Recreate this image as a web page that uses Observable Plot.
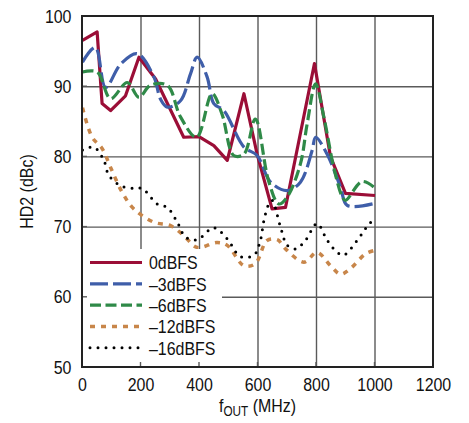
<!DOCTYPE html>
<html>
<head>
<meta charset="utf-8">
<script src="https://cdn.jsdelivr.net/npm/d3@7"></script>
<script src="https://cdn.jsdelivr.net/npm/@observablehq/plot@0.6"></script>
<style>
  html, body { margin: 0; padding: 0; background: #fff; }
  #chart { width: 469px; height: 423px; }
</style>
</head>
<body>
<div id="chart"></div>
<script>
// ---- Data ----
const seriesNames = ["0dBFS", "\u20133dBFS", "\u20136dBFS", "\u201312dBFS", "\u201316dBFS"];
const xTicks = [0, 200, 400, 600, 800, 1000, 1200];
const yTicks = [50, 60, 70, 80, 90, 100];

const s0dBFS = [[0,96.6],[50,97.8],[67,87.6],[96,86.6],[147,88.7],[193,94.2],[250,91.1],[346,82.8],[398,82.9],[449,81.6],[495,79.5],[552,89.0],[597,80.4],[648,72.6],[694,72.8],[793,93.3],[848,80.0],[899,74.8],[1000,74.5]];
const s3dBFS = [[0,93.5],[44,95.6],[79,89.9],[130,93.2],[187,94.7],[244,91.4],[267,88.2],[290,87.1],[335,88.0],[369,91.8],[392,94.2],[426,91.4],[449,87.6],[483,86.6],[552,81.4],[597,80.2],[643,76.4],[700,75.2],[745,76.4],[785,80.9],[797,82.8],[836,80.4],[882,75.7],[905,73.1],[1000,73.4]];
const s6dBFS = [[0,92.1],[50,92.1],[96,88.3],[153,90.6],[193,88.5],[232,90.2],[290,90.2],[335,85.7],[390,82.8],[443,89.0],[477,86.1],[517,80.2],[552,80.4],[591,85.4],[636,76.6],[671,73.3],[700,74.3],[745,79.0],[768,84.7],[797,90.4],[825,85.7],[859,78.5],[888,74.3],[899,73.8],[956,76.5],[996,75.7]];
const s12dBFS = [[0,87.0],[33,82.8],[67,81.2],[96,78.5],[135,75.0],[175,72.6],[244,70.7],[301,70.2],[346,68.8],[392,67.1],[460,67.8],[495,67.4],[552,64.5],[591,64.8],[631,68.1],[666,68.2],[694,66.9],[757,65.0],[802,66.4],[848,64.5],[882,63.3],[916,64.1],[968,66.2],[1000,66.7]];
const s16dBFS = [[0,81.0],[39,81.4],[73,79.5],[90,77.4],[130,75.9],[175,75.5],[204,75.5],[255,73.3],[290,72.8],[324,70.7],[352,68.6],[392,68.2],[449,69.9],[495,68.3],[540,65.8],[586,66.0],[608,68.1],[620,70.9],[637,73.3],[648,73.8],[677,70.0],[700,67.4],[728,66.9],[762,68.1],[802,70.5],[837,68.1],[871,66.4],[893,66.0],[939,68.1],[968,69.8],[1000,71.4]];

// ---- Styles ----
const styles = [
  {stroke: "#9b0e37", width: 3.2, dash: null, curve: "linear", cap: "butt"},
  {stroke: "#3f5ea9", width: 3.2, dash: "18,5", curve: "catmull-rom", cap: "butt"},
  {stroke: "#2f8a48", width: 3.2, dash: "11,4.5", curve: "catmull-rom", cap: "butt"},
  {stroke: "#c8864a", width: 3.5, dash: "5,6", curve: "catmull-rom", cap: "butt"},
  {stroke: "#000000", width: 3, dash: "0,8", curve: "catmull-rom", cap: "round"}
];
const allSeries = [s0dBFS, s3dBFS, s6dBFS, s12dBFS, s16dBFS];

const FONT = "'Liberation Sans', Arial, Helvetica, sans-serif";
const FS = "19px";
const NARROW = 0.84;

const lineMarks = allSeries.map((s, i) => Plot.line(s, {
  x: d => d[0], y: d => d[1],
  stroke: styles[i].stroke, strokeWidth: styles[i].width,
  strokeDasharray: styles[i].dash, curve: styles[i].curve,
  strokeLinecap: styles[i].cap, strokeLinejoin: "round"
}));

const plot = Plot.plot({
  width: 469, height: 423,
  marginLeft: 82, marginRight: 36, marginTop: 16, marginBottom: 56,
  style: {fontFamily: FONT, fontSize: FS, color: "#111", background: "#fff"},
  x: {domain: [0, 1200], ticks: xTicks, tickFormat: d => String(d)},
  y: {domain: [50, 100], ticks: yTicks, tickFormat: d => String(d)},
  marks: [
    Plot.ruleX(xTicks.slice(1, -1), {stroke: "#5a5a5a", strokeWidth: 1.4}),
    Plot.ruleY(yTicks.slice(1, -1), {stroke: "#5a5a5a", strokeWidth: 1.4}),
    ...lineMarks,
    Plot.axisX({ticks: xTicks, tickFormat: d => String(d), tickSize: 0, tickPadding: 10, label: null, fontSize: FS}),
    Plot.axisY({ticks: yTicks, tickFormat: d => String(d), tickSize: 0, tickPadding: 11, label: null, fontSize: FS})
  ]
});

document.getElementById("chart").appendChild(plot);

// ---- Legend, inward ticks, frame, axis titles ----
const svg = d3.select(plot);
const xs = plot.scale("x"), ys = plot.scale("y");
const X = v => xs.apply(v), Y = v => ys.apply(v);
const pLeft = X(0), pRight = X(1200), pTop = Y(100), pBottom = Y(50);

const lg = svg.append("g").attr("font-family", FONT).attr("font-size", FS);
lg.append("rect").attr("x", pLeft).attr("y", 249).attr("width", 222 - pLeft).attr("height", pBottom - 249).attr("fill", "#fff");
seriesNames.forEach((name, i) => {
  const yy = 262.5 + i * 21.3;
  const st = styles[i];
  lg.append("line").attr("x1", 90).attr("x2", 142).attr("y1", yy).attr("y2", yy)
    .attr("stroke", st.stroke).attr("stroke-width", st.width)
    .attr("stroke-dasharray", st.dash).attr("stroke-linecap", st.cap);
  lg.append("text").attr("x", 149).attr("y", yy).attr("dy", "0.36em")
    .attr("text-anchor", "start").attr("fill", "#111").text(name);
});

const tk = svg.append("g").attr("stroke", "#5a5a5a").attr("stroke-width", 1.4);
xTicks.slice(1, -1).forEach(v => {
  tk.append("line").attr("x1", X(v)).attr("x2", X(v)).attr("y1", pBottom).attr("y2", pBottom - 5);
});
yTicks.slice(1, -1).forEach(v => {
  tk.append("line").attr("x1", pLeft).attr("x2", pLeft + 5).attr("y1", Y(v)).attr("y2", Y(v));
});

svg.append("rect").attr("x", pLeft).attr("y", pTop).attr("width", pRight - pLeft).attr("height", pBottom - pTop)
  .attr("fill", "none").attr("stroke", "#222").attr("stroke-width", 2);

const xl = svg.append("text").attr("x", (pLeft + pRight) / 2).attr("y", 412).attr("text-anchor", "middle")
  .attr("font-family", FONT).attr("font-size", FS).attr("fill", "#111");
xl.append("tspan").text("f");
xl.append("tspan").attr("font-size", "14px").attr("dy", "4").text("OUT");
xl.append("tspan").attr("dy", "-4").text(" (MHz)");

svg.append("text").attr("transform", `translate(33,${(pTop + pBottom) / 2}) rotate(-90)`)
  .attr("text-anchor", "middle").attr("font-family", FONT).attr("font-size", FS).attr("fill", "#111")
  .text("HD2 (dBc)");

// Narrow the sans type along its reading direction to match the condensed face of the reference
const isNum = v => v !== null && v !== "" && isFinite(+v);
svg.selectAll("text").each(function() {
  const t = d3.select(this);
  const ax = t.attr("x"), ay = t.attr("y");
  const x = isNum(ax) ? +ax : 0, y = isNum(ay) ? +ay : 0;
  if (isNum(ax)) t.attr("x", null);
  if (isNum(ay)) t.attr("y", null);
  const tr = t.attr("transform") || "";
  t.attr("transform", `${tr} translate(${x},${y}) scale(${NARROW},1)`);
});
</script>
</body>
</html>
